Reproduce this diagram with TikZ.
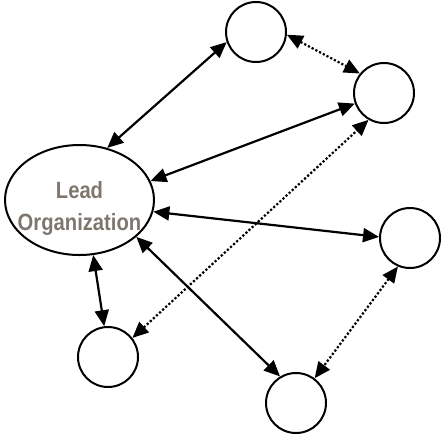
\documentclass[tikz,border=0pt]{standalone}
\usepackage{fontspec}
\setmainfont{Liberation Sans}
\newfontfamily\leadfont[FakeStretch=0.86]{Liberation Sans}
\usetikzlibrary{shapes.geometric,arrows.meta}
\definecolor{leadgray}{RGB}{127,118,110}
\begin{document}
\begin{tikzpicture}[x=1pt,y=-1pt,
    partner/.style={circle,draw,line width=2pt,minimum size=60pt,inner sep=0pt},
    leadorg/.style={ellipse,draw,line width=2pt,minimum width=149pt,minimum height=110pt,inner sep=0pt},
    leadtext/.style={text=leadgray,font=\leadfont\bfseries\fontsize{23.5}{32}\selectfont,align=center,inner sep=0pt},
    link/.style={line width=2.2pt,{Triangle[length=16pt,width=14pt]}-{Triangle[length=16pt,width=14pt]}},
    weak/.style={line width=2.2pt,dotted,{Triangle[length=16pt,width=14pt]}-{Triangle[length=16pt,width=14pt]}}]
   \useasboundingbox (0,0) rectangle (441,434);
   \node[leadorg] (lead) at (79.5,200) {};
   \node[leadtext] (leadlabel) at (79.5,208) {Lead\\Organization};
   \foreach \n/\x/\y in
     {top/256/32,
      upright/384/93,
      right/410/238,
      lowright/296/403,
      lowleft/108/357}
     \node[partner] (\n) at (\x,\y) {};
   \foreach \a/\b/\s in
     {lead.62/top.199/link,
      top.-5/upright.141/weak,
      upright.200/lead.15/link,
      lead.-9/right.178/link,
      right.-113/lowright.53/weak,
      lead.-33/lowright.121/link,
      lead.-76/lowleft.97/link,
      lowleft.38/upright.-120/weak}
     \draw[\s] (\a) -- (\b);
\end{tikzpicture}
\end{document}
